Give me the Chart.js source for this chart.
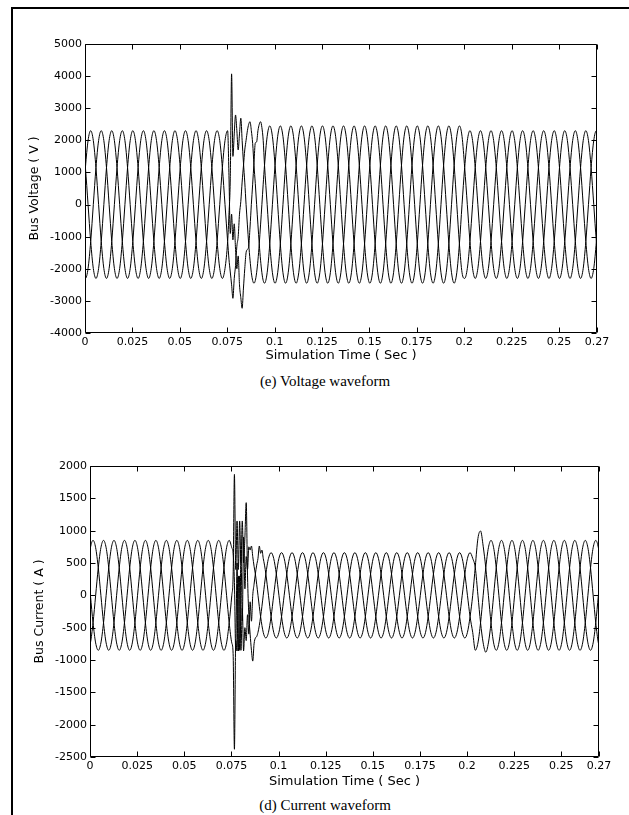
<!DOCTYPE html>
<html><head><meta charset="utf-8">
<script src="https://cdn.jsdelivr.net/npm/chart.js@4.4.1/dist/chart.umd.min.js"></script>
<style>
html,body{margin:0;padding:0;background:#fff;}
#page{position:relative;width:629px;height:815px;overflow:hidden;background:#fff;}
#frameTop{position:absolute;left:11px;top:7px;width:618px;height:2px;background:#000;}
#frameLeft{position:absolute;left:11px;top:7px;width:2px;height:808px;background:#000;}
canvas{position:absolute;left:0;}
.cap{position:absolute;left:0;width:650px;text-align:center;font-family:"Liberation Serif","Times New Roman",serif;font-size:15px;line-height:16px;color:#000;}
</style></head>
<body><div id="page">
<div id="frameTop"></div><div id="frameLeft"></div>
<canvas id="cv" width="629" height="363" style="top:0px"></canvas>
<canvas id="ci" width="629" height="369" style="top:420px"></canvas>
<div class="cap" style="top:373px">(e) Voltage waveform</div>
<div class="cap" style="top:797px">(d) Current waveform</div>
</div>
<script>
// Simulation time (s)
const time = [
 -0.00117,
 0.00022,0.00161,0.00300,0.00439,0.00578,0.00717,0.00856,0.00994,0.01133,0.01272,0.01411,0.01550,
 0.01689,0.01828,0.01967,0.02106,0.02244,0.02383,0.02522,0.02661,0.02800,0.02939,0.03078,0.03217,
 0.03356,0.03494,0.03633,0.03772,0.03911,0.04050,0.04189,0.04328,0.04467,0.04606,0.04744,0.04883,
 0.05022,0.05161,0.05300,0.05439,0.05578,0.05717,0.05856,0.05994,0.06133,0.06272,0.06411,0.06550,
 0.06689,0.06828,0.06967,0.07106,0.07244,0.07383,0.07522,0.07592,0.07661,0.07731,0.07800,0.07870,0.07939,0.08008,0.08078,0.08147,0.08217,0.08286,
 0.08356,0.08425,0.08494,0.08564,0.08633,0.08703,0.08772,0.08842,0.08911,0.08981,0.09050,0.09120,0.09189,0.09258,0.09328,0.09397,0.09467,0.09606,0.09744,0.09883,
 0.10022,0.10161,0.10300,0.10439,0.10578,0.10717,0.10856,0.10994,0.11133,0.11272,0.11411,0.11550,
 0.11689,0.11828,0.11967,0.12106,0.12244,0.12383,0.12522,0.12661,0.12800,0.12939,0.13078,0.13217,
 0.13356,0.13494,0.13633,0.13772,0.13911,0.14050,0.14189,0.14328,0.14467,0.14606,0.14744,0.14883,
 0.15022,0.15161,0.15300,0.15439,0.15578,0.15717,0.15856,0.15994,0.16133,0.16272,0.16411,0.16550,
 0.16689,0.16828,0.16967,0.17106,0.17244,0.17383,0.17522,0.17661,0.17800,0.17939,0.18078,0.18217,
 0.18356,0.18494,0.18633,0.18772,0.18911,0.19050,0.19189,0.19328,0.19467,0.19606,0.19744,0.19883,
 0.20022,0.20161,0.20300,0.20439,0.20578,0.20717,0.20856,0.20994,0.21133,0.21272,0.21411,0.21550,
 0.21689,0.21828,0.21967,0.22106,0.22244,0.22383,0.22522,0.22661,0.22800,0.22939,0.23078,0.23217,
 0.23356,0.23494,0.23633,0.23772,0.23911,0.24050,0.24189,0.24328,0.24467,0.24606,0.24744,0.24883,
 0.25022,0.25161,0.25300,0.25439,0.25578,0.25717,0.25856,0.25994,0.26133,0.26272,0.26411,0.26550,
 0.26689,0.26828,0.26967,0.27106
];

// Bus voltage, phase a (V)
const voltageA = [
 0,
 1150,1992,2300,1992,1150,0,-1150,-1992,-2300,-1992,-1150,0,
 1150,1992,2300,1992,1150,0,-1150,-1992,-2300,-1992,-1150,0,
 1150,1992,2300,1992,1150,0,-1150,-1992,-2300,-1992,-1150,0,
 1150,1992,2300,1992,1150,0,-1150,-1992,-2300,-1992,-1150,0,
 1150,1992,2300,1992,1150,0,-1150,-1700,-2100,-2500,-2920,-2300,-1900,-1300,-1000,-300,100,700,
 1200,1700,2000,2300,2500,2580,2300,1900,1225,650,0,-634,-1225,-1732,-2122,-2366,-2450,-2122,-1225,0,
 1225,2122,2450,2122,1225,0,-1225,-2122,-2450,-2122,-1225,0,
 1225,2122,2450,2122,1225,0,-1225,-2122,-2450,-2122,-1225,0,
 1225,2122,2450,2122,1225,0,-1225,-2122,-2450,-2122,-1225,0,
 1225,2122,2450,2122,1225,0,-1225,-2122,-2450,-2122,-1225,0,
 1225,2122,2450,2122,1225,0,-1225,-2122,-2450,-2122,-1225,0,
 1225,2122,2450,2122,1225,0,-1225,-2122,-2450,-2122,-1225,0,
 1150,1992,2300,1992,1150,0,-1150,-1992,-2300,-1992,-1150,0,
 1150,1992,2300,1992,1150,0,-1150,-1992,-2300,-1992,-1150,0,
 1150,1992,2300,1992,1150,0,-1150,-1992,-2300,-1992,-1150,0,
 1150,1992,2300,1992,1150,0,-1150,-1992,-2300,-1992,-1150,0,
 1150,1992,2300,1992
];
// Bus voltage, phase b (V)
const voltageB = [
 -1992,
 -2300,-1992,-1150,0,1150,1992,2300,1992,1150,0,-1150,-1992,
 -2300,-1992,-1150,0,1150,1992,2300,1992,1150,0,-1150,-1992,
 -2300,-1992,-1150,0,1150,1992,2300,1992,1150,0,-1150,-1992,
 -2300,-1992,-1150,0,1150,1992,2300,1992,1150,0,-1150,-1992,
 -2300,-1992,-1150,0,1150,1992,2300,900,-900,-300,-1100,-600,-1400,-2000,-1600,-2500,-2900,-3230,
 -2600,-2000,-1500,-1400,-1300,-700,0,634,1300,1920,1950,2300,2500,2580,2400,2000,1225,0,-1225,-2122,
 -2450,-2122,-1225,0,1225,2122,2450,2122,1225,0,-1225,-2122,
 -2450,-2122,-1225,0,1225,2122,2450,2122,1225,0,-1225,-2122,
 -2450,-2122,-1225,0,1225,2122,2450,2122,1225,0,-1225,-2122,
 -2450,-2122,-1225,0,1225,2122,2450,2122,1225,0,-1225,-2122,
 -2450,-2122,-1225,0,1225,2122,2450,2122,1225,0,-1225,-2122,
 -2450,-2122,-1225,0,1225,2122,2450,2122,1225,0,-1225,-2122,
 -2300,-1992,-1150,0,1150,1992,2300,1992,1150,0,-1150,-1992,
 -2300,-1992,-1150,0,1150,1992,2300,1992,1150,0,-1150,-1992,
 -2300,-1992,-1150,0,1150,1992,2300,1992,1150,0,-1150,-1992,
 -2300,-1992,-1150,0,1150,1992,2300,1992,1150,0,-1150,-1992,
 -2300,-1992,-1150,0
];
// Bus voltage, phase c (V)
const voltageC = [
 1992,
 1150,0,-1150,-1992,-2300,-1992,-1150,0,1150,1992,2300,1992,
 1150,0,-1150,-1992,-2300,-1992,-1150,0,1150,1992,2300,1992,
 1150,0,-1150,-1992,-2300,-1992,-1150,0,1150,1992,2300,1992,
 1150,0,-1150,-1992,-2300,-1992,-1150,0,1150,1992,2300,1992,
 1150,0,-1150,-1992,-2300,-1992,-1150,-300,800,4070,1500,2200,2790,2300,1700,2200,2690,2000,
 1300,700,0,-634,-1225,-1732,-2122,-2366,-2450,-2366,-2122,-1732,-1225,-634,0,634,1225,2122,2450,2122,
 1225,0,-1225,-2122,-2450,-2122,-1225,0,1225,2122,2450,2122,
 1225,0,-1225,-2122,-2450,-2122,-1225,0,1225,2122,2450,2122,
 1225,0,-1225,-2122,-2450,-2122,-1225,0,1225,2122,2450,2122,
 1225,0,-1225,-2122,-2450,-2122,-1225,0,1225,2122,2450,2122,
 1225,0,-1225,-2122,-2450,-2122,-1225,0,1225,2122,2450,2122,
 1225,0,-1225,-2122,-2450,-2122,-1225,0,1225,2122,2450,2122,
 1150,0,-1150,-1992,-2300,-1992,-1150,0,1150,1992,2300,1992,
 1150,0,-1150,-1992,-2300,-1992,-1150,0,1150,1992,2300,1992,
 1150,0,-1150,-1992,-2300,-1992,-1150,0,1150,1992,2300,1992,
 1150,0,-1150,-1992,-2300,-1992,-1150,0,1150,1992,2300,1992,
 1150,0,-1150,-1992
];

// Bus current, phase a (A)
const currentA = [
 425,
 736,850,736,425,0,-425,-736,-850,-736,-425,0,425,
 736,850,736,425,0,-425,-736,-850,-736,-425,0,425,
 736,850,736,425,0,-425,-736,-850,-736,-425,0,425,
 736,850,736,425,0,-425,-736,-850,-736,-425,0,425,
 736,850,736,425,0,-425,-736,-900,-2380,-700,-860,300,-850,700,-400,900,100,600,
 400,750,700,763,600,450,330,171,0,-171,-330,-467,-572,-637,-660,-637,-572,-330,0,330,
 572,660,572,330,0,-330,-572,-660,-572,-330,0,330,
 572,660,572,330,0,-330,-572,-660,-572,-330,0,330,
 572,660,572,330,0,-330,-572,-660,-572,-330,0,330,
 572,660,572,330,0,-330,-572,-660,-572,-330,0,330,
 572,660,572,330,0,-330,-572,-660,-572,-330,0,330,
 572,660,572,330,0,-330,-572,-660,-572,-330,0,330,
 572,660,572,425,0,-425,-736,-880,-736,-425,0,425,
 736,850,736,425,0,-425,-736,-850,-736,-425,0,425,
 736,850,736,425,0,-425,-736,-850,-736,-425,0,425,
 736,850,736,425,0,-425,-736,-850,-736,-425,0,425,
 736,850,736,425
];
// Bus current, phase b (A)
const currentB = [
 -850,
 -736,-425,0,425,736,850,736,425,0,-425,-736,-850,
 -736,-425,0,425,736,850,736,425,0,-425,-736,-850,
 -736,-425,0,425,736,850,736,425,0,-425,-736,-850,
 -736,-425,0,425,736,850,736,425,0,-425,-736,-850,
 -736,-425,0,425,736,850,736,650,200,-860,500,-860,300,-850,-200,-860,-500,-700,
 -300,-600,-100,-400,0,171,330,467,572,763,650,700,572,467,330,171,0,-330,-572,-660,
 -572,-330,0,330,572,660,572,330,0,-330,-572,-660,
 -572,-330,0,330,572,660,572,330,0,-330,-572,-660,
 -572,-330,0,330,572,660,572,330,0,-330,-572,-660,
 -572,-330,0,330,572,660,572,330,0,-330,-572,-660,
 -572,-330,0,330,572,660,572,330,0,-330,-572,-660,
 -572,-330,0,330,572,660,572,330,0,-330,-572,-660,
 -572,-330,0,450,880,995,760,425,0,-425,-736,-850,
 -736,-425,0,425,736,850,736,425,0,-425,-736,-850,
 -736,-425,0,425,736,850,736,425,0,-425,-736,-850,
 -736,-425,0,425,736,850,736,425,0,-425,-736,-850,
 -736,-425,0,425
];
// Bus current, phase c (A)
const currentC = [
 425,
 0,-425,-736,-850,-736,-425,0,425,736,850,736,425,
 0,-425,-736,-850,-736,-425,0,425,736,850,736,425,
 0,-425,-736,-850,-736,-425,0,425,736,850,736,425,
 0,-425,-736,-850,-736,-425,0,425,736,850,736,425,
 0,-425,-736,-850,-736,-425,0,300,1870,400,1150,400,1150,500,1150,500,900,1433,
 300,-300,-600,-850,-1017,-750,-660,-637,-572,-467,-330,-171,0,171,330,467,572,660,572,330,
 0,-330,-572,-660,-572,-330,0,330,572,660,572,330,
 0,-330,-572,-660,-572,-330,0,330,572,660,572,330,
 0,-330,-572,-660,-572,-330,0,330,572,660,572,330,
 0,-330,-572,-660,-572,-330,0,330,572,660,572,330,
 0,-330,-572,-660,-572,-330,0,330,572,660,572,330,
 0,-330,-572,-660,-572,-330,0,330,572,660,572,330,
 0,-330,-572,-850,-736,-425,0,425,736,850,736,425,
 0,-425,-736,-850,-736,-425,0,425,736,850,736,425,
 0,-425,-736,-850,-736,-425,0,425,736,850,736,425,
 0,-425,-736,-850,-736,-425,0,425,736,850,736,425,
 0,-425,-736,-850
];

// Tick labels
const xTicks = [0,0.025,0.05,0.075,0.1,0.125,0.15,0.175,0.2,0.225,0.25,0.27];
const voltageTicks = [-4000,-3000,-2000,-1000,0,1000,2000,3000,4000,5000];
const currentTicks = [-2500,-2000,-1500,-1000,-500,0,500,1000,1500,2000];

[voltageA,voltageB,voltageC,currentA,currentB,currentC].forEach((s,i)=>{
  if (s.length !== time.length) console.error('length mismatch', i, s.length, time.length);
});

const FONT = '"DejaVu Sans", Verdana, sans-serif';
const toPts = s => time.map((t,i)=>({x:t, y:s[i]}));

const boxTicks = {
  id:'boxTicks',
  afterDatasetsDraw(chart){
    const {ctx, chartArea:a, scales:{x,y}} = chart;
    const L=Math.round(a.left)+0.5, R=Math.round(a.right)-0.5, T=Math.round(a.top)+0.5, B=Math.round(a.bottom)-0.5;
    ctx.save();
    ctx.strokeStyle='#000'; ctx.lineWidth=1;
    ctx.beginPath();
    ctx.rect(L,T,R-L,B-T);
    x.ticks.forEach(tk=>{
      const px=Math.round(x.getPixelForValue(tk.value))+0.5;
      ctx.moveTo(px,B); ctx.lineTo(px,B-5);
      ctx.moveTo(px,T); ctx.lineTo(px,T+5);
    });
    y.ticks.forEach(tk=>{
      const py=Math.round(y.getPixelForValue(tk.value))+0.5;
      ctx.moveTo(L,py); ctx.lineTo(L+5,py);
      ctx.moveTo(R,py); ctx.lineTo(R-5,py);
    });
    ctx.stroke();
    ctx.restore();
  }
};

function makeChart(id, series, yTicks, yMin, yMax, yTitle, pad, yWidth, yTitlePad, xHeight){
  return new Chart(document.getElementById(id), {
    type:'line',
    data:{datasets: series.map(s=>({data:toPts(s), borderColor:'#000', borderWidth:1, pointRadius:0, fill:false, cubicInterpolationMode:'monotone'}))},
    options:{
      responsive:false, animation:false, devicePixelRatio:1, parsing:false,
      layout:{padding:pad},
      plugins:{legend:{display:false}, tooltip:{enabled:false}},
      scales:{
        x:{type:'linear', min:0, max:0.27,
          grid:{display:false, drawTicks:false}, border:{display:false},
          afterBuildTicks:s=>{ s.ticks = xTicks.map(v=>({value:v})); },
          afterFit:s=>{ s.height = xHeight; },
          ticks:{autoSkip:false, maxRotation:0, minRotation:0, padding:3, color:'#000', font:{family:FONT, size:11}, callback:v=>String(v)},
          title:{display:true, text:'Simulation Time ( Sec )', color:'#000', font:{family:FONT, size:13}, padding:0}
        },
        y:{type:'linear', min:yMin, max:yMax,
          grid:{display:false, drawTicks:false}, border:{display:false},
          afterBuildTicks:s=>{ s.ticks = yTicks.map(v=>({value:v})); },
          afterFit:s=>{ s.width = yWidth; },
          ticks:{autoSkip:false, padding:3, color:'#000', font:{family:FONT, size:11}, callback:v=>String(v)},
          title:{display:true, text:yTitle, color:'#000', font:{family:FONT, size:12.5}, padding:{top:yTitlePad, bottom:0}}
        }
      }
    },
    plugins:[boxTicks]
  });
}

makeChart('cv', [voltageA,voltageB,voltageC], voltageTicks, -4000, 5000, 'Bus Voltage ( V )', {top:44, right:32, left:0, bottom:0}, 85, 27.5, 30);
makeChart('ci', [currentA,currentB,currentC], currentTicks, -2500, 2000, 'Bus Current ( A )', {top:46, right:30, left:0, bottom:0}, 90, 32.5, 32);
</script>
</body></html>
